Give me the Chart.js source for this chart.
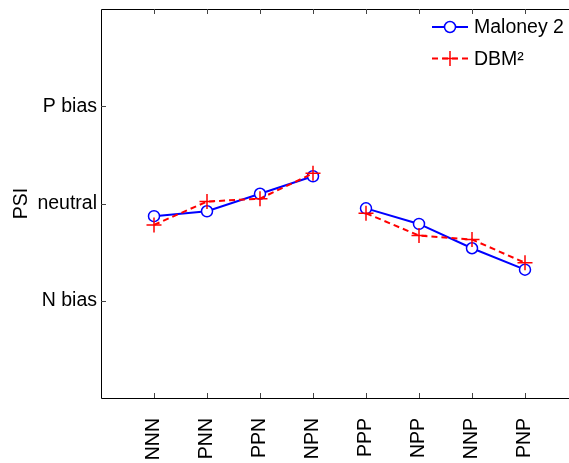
<!DOCTYPE html>
<html>
<head>
<meta charset="utf-8">
<script src="https://cdn.jsdelivr.net/npm/chart.js@4/dist/chart.umd.min.js"></script>
<style>
  html, body { margin: 0; padding: 0; background: #fff; overflow: hidden; }
  canvas { display: block; }
</style>
</head>
<body>
<canvas id="psiChart" width="590" height="463"></canvas>
<script>
// Data
const categories = ['NNN', 'PNN', 'PPN', 'NPN', 'PPP', 'NPP', 'NNP', 'PNP'];
const maloney = [-0.13, -0.08, 0.10, 0.28, -0.05, -0.21, -0.46, -0.68];
const dbm = [-0.22, 0.02, 0.05, 0.31, -0.10, -0.33, -0.37, -0.61];
const yTickValues = [-1, 0, 1];
const yTickLabels = ['N bias', 'neutral', 'P bias'];

const FONT = { family: '"Liberation Sans", Arial, Helvetica, sans-serif', size: 19.5 };
const BLUE = '#0000ff';
const RED = '#ff0000';

function toPoints(values) {
    return values.map((v, i) => ({ x: i + 1, y: v }));
}

// no line between NPN and PPP
function gapColor(color) {
    return ctx => ctx.p0DataIndex === 3 ? 'rgba(0,0,0,0)' : color;
}

// box, inward ticks and legend drawn the matlab way
const frame = {
    id: 'frame',
    afterDraw(chart) {
        const ctx = chart.ctx;
        const a = chart.chartArea;
        const xs = chart.scales.x;
        const ys = chart.scales.y;
        ctx.save();
        ctx.strokeStyle = '#000';
        ctx.lineWidth = 1;
        ctx.beginPath();
        ctx.moveTo(a.left + 0.5, a.top + 0.5);
        ctx.lineTo(a.left + 0.5, a.bottom + 0.5);
        ctx.lineTo(a.right + 0.5, a.bottom + 0.5);
        ctx.lineTo(a.right + 0.5, a.top + 0.5);
        ctx.closePath();
        ctx.stroke();

        ctx.strokeStyle = '#444';
        ctx.beginPath();
        categories.forEach((c, i) => {
            const px = Math.round(xs.getPixelForValue(i + 1)) + 0.5;
            ctx.moveTo(px, a.bottom);
            ctx.lineTo(px, a.bottom - 5);
            ctx.moveTo(px, a.top);
            ctx.lineTo(px, a.top + 5);
        });
        yTickValues.forEach(v => {
            const py = Math.round(ys.getPixelForValue(v)) + 0.5;
            ctx.moveTo(a.left, py);
            ctx.lineTo(a.left + 5, py);
            ctx.moveTo(a.right, py);
            ctx.lineTo(a.right - 5, py);
        });
        ctx.stroke();

        // legend
        const rows = [
            { label: 'Maloney 2', color: BLUE, dash: [], marker: 'circle' },
            { label: 'DBM\u00b2', color: RED, dash: [6, 4], marker: 'cross' }
        ];
        ctx.font = FONT.size + 'px ' + FONT.family;
        ctx.textBaseline = 'middle';
        ctx.fillStyle = '#000';
        rows.forEach((r, i) => {
            const y = 27 + i * 31.5;
            ctx.strokeStyle = r.color;
            ctx.lineWidth = 2;
            ctx.setLineDash(r.dash);
            ctx.beginPath();
            ctx.moveTo(432, y);
            ctx.lineTo(468, y);
            ctx.stroke();
            ctx.setLineDash([]);
            ctx.lineWidth = 1.5;
            ctx.beginPath();
            if (r.marker === 'circle') {
                ctx.fillStyle = '#fff';
                ctx.arc(450, y, 5.5, 0, Math.PI * 2);
                ctx.fill();
            } else {
                ctx.moveTo(442.5, y);
                ctx.lineTo(457.5, y);
                ctx.moveTo(450, y - 7.5);
                ctx.lineTo(450, y + 7.5);
            }
            ctx.stroke();
            ctx.fillStyle = '#000';
            ctx.fillText(r.label, 474, y + 1);
        });
        ctx.restore();
    }
};

const psiChart = new Chart(document.getElementById('psiChart'), {
    type: 'line',
    data: {
        datasets: [{
            label: 'Maloney 2',
            data: toPoints(maloney),
            borderColor: BLUE,
            borderWidth: 2,
            pointStyle: 'circle',
            pointRadius: 5.5,
            pointBorderWidth: 1.5,
            pointBackgroundColor: '#fff',
            pointBorderColor: BLUE,
            segment: { borderColor: gapColor(BLUE) },
            order: 1
        }, {
            label: 'DBM\u00b2',
            data: toPoints(dbm),
            borderColor: RED,
            borderWidth: 2,
            borderDash: [6, 4],
            pointStyle: 'cross',
            pointRadius: 7.5,
            pointBorderWidth: 1.5,
            pointBorderColor: RED,
            segment: { borderColor: gapColor(RED) },
            order: 0
        }]
    },
    options: {
        responsive: false,
        animation: false,
        layout: { padding: { top: 5, right: 12, left: 0, bottom: 0 } },
        plugins: { legend: { display: false }, tooltip: { enabled: false } },
        scales: {
            x: {
                type: 'linear',
                min: 0,
                max: 9,
                grid: { display: false, drawTicks: false },
                border: { display: false },
                afterBuildTicks: s => { s.ticks = categories.map((c, i) => ({ value: i + 1 })); },
                afterFit: s => { s.height = 65; s.paddingLeft = 0; s.paddingRight = 0; },
                ticks: {
                    autoSkip: false,
                    minRotation: 90,
                    maxRotation: 90,
                    padding: 20,
                    color: '#000',
                    font: FONT,
                    callback: v => categories[v - 1]
                }
            },
            y: {
                min: -2,
                max: 2,
                grid: { display: false, drawTicks: false },
                border: { display: false },
                afterBuildTicks: s => { s.ticks = yTickValues.map(v => ({ value: v })); },
                afterFit: s => { s.width = 101; s.paddingTop = 0; s.paddingBottom = 0; },
                ticks: {
                    padding: 4,
                    color: '#000',
                    font: FONT,
                    callback: v => yTickLabels[yTickValues.indexOf(v)]
                },
                title: {
                    display: true,
                    text: 'PSI',
                    color: '#000',
                    font: FONT,
                    padding: { top: 10, bottom: 0 }
                }
            }
        }
    },
    plugins: [frame]
});
</script>
</body>
</html>
